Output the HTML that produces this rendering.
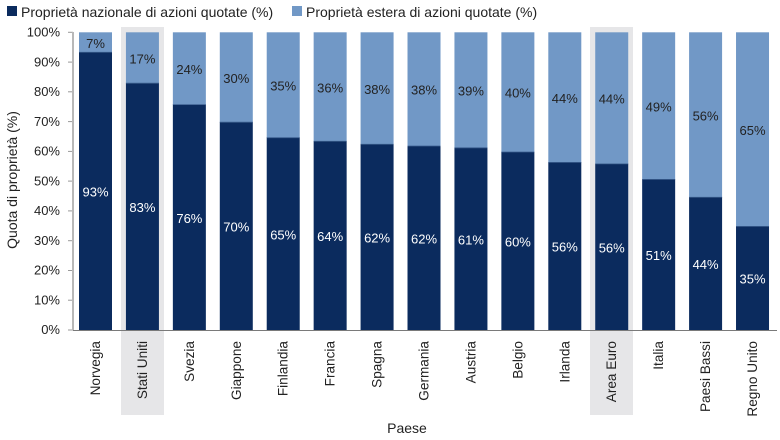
<!DOCTYPE html>
<html><head><meta charset="utf-8"><style>
html,body{margin:0;padding:0;background:#fff;}
svg{display:block;font-family:"Liberation Sans",sans-serif;}
</style></head><body>
<svg width="780" height="440" viewBox="0 0 780 440" xmlns="http://www.w3.org/2000/svg">
<rect width="780" height="440" fill="#fff"/>
<!-- legend -->
<rect x="7" y="6" width="10" height="10" fill="#0b2b5e"/>
<text x="21" y="17" font-size="14" fill="#222">Proprietà nazionale di azioni quotate (%)</text>
<rect x="292" y="6" width="10" height="10" fill="#7198c6"/>
<text x="306" y="17" font-size="14" fill="#222">Proprietà estera di azioni quotate (%)</text>
<!-- highlights -->
<rect x="121" y="27" width="43" height="388" fill="#e6e6e8"/>
<rect x="590" y="27" width="43" height="388" fill="#e6e6e8"/>
<!-- y axis -->
<g font-size="13" fill="#222" text-anchor="end">
<text x="60" y="36.5">100%</text>
<text x="60" y="66.3">90%</text>
<text x="60" y="96.1">80%</text>
<text x="60" y="125.8">70%</text>
<text x="60" y="155.6">60%</text>
<text x="60" y="185.4">50%</text>
<text x="60" y="215.1">40%</text>
<text x="60" y="244.9">30%</text>
<text x="60" y="274.7">20%</text>
<text x="60" y="304.4">10%</text>
<text x="60" y="334.2">0%</text>
</g>
<g stroke="#9a9a9a" stroke-width="1">
<line x1="68" x2="73" y1="32.3" y2="32.3"/>
<line x1="68" x2="73" y1="62.1" y2="62.1"/>
<line x1="68" x2="73" y1="91.8" y2="91.8"/>
<line x1="68" x2="73" y1="121.6" y2="121.6"/>
<line x1="68" x2="73" y1="151.4" y2="151.4"/>
<line x1="68" x2="73" y1="181.1" y2="181.1"/>
<line x1="68" x2="73" y1="210.9" y2="210.9"/>
<line x1="68" x2="73" y1="240.7" y2="240.7"/>
<line x1="68" x2="73" y1="270.5" y2="270.5"/>
<line x1="68" x2="73" y1="300.2" y2="300.2"/>
<line x1="68" x2="73" y1="330" y2="330"/>
</g>
<line x1="73" x2="73" y1="32" y2="330" stroke="#b8b8b8" stroke-width="2"/>
<text transform="translate(17,180) rotate(-90)" font-size="14" fill="#222" text-anchor="middle">Quota di proprietà (%)</text>
<!-- bars -->
<g id="bars"></g>
<line x1="73" x2="777" y1="330.5" y2="330.5" stroke="#7a7a7a" stroke-width="1"/>
<text x="407" y="433" font-size="14" fill="#222" text-anchor="middle">Paese</text>
<script>
(function(){
var names=["Norvegia","Stati Uniti","Svezia","Giappone","Finlandia","Francia","Spagna","Germania","Austria","Belgio","Irlanda","Area Euro","Italia","Paesi Bassi","Regno Unito"];
var dom=[93.3,82.9,75.7,69.8,64.6,63.4,62.4,61.8,61.2,59.8,56.3,55.8,50.6,44.6,34.8];
var dl=[93,83,76,70,65,64,62,62,61,60,56,56,51,44,35];
var fl=[7,17,24,30,35,36,38,38,39,40,44,44,49,56,65];
var ns="http://www.w3.org/2000/svg";
var g=document.getElementById("bars");
function el(t,a,txt){var e=document.createElementNS(ns,t);for(var k in a)e.setAttribute(k,a[k]);if(txt!==undefined)e.textContent=txt;g.appendChild(e);return e;}
var top=32.3,bot=330,sc=(bot-top)/100;
for(var i=0;i<15;i++){
 var x=79+i*46.93,w=33,cx=x+w/2;
 var yb=bot-dom[i]*sc;
 el("rect",{x:x,y:top,width:w,height:yb-top,fill:"#7198c6"});
 el("rect",{x:x,y:yb,width:w,height:bot-yb,fill:"#0b2b5e"});
 el("line",{x1:x,x2:x+w,y1:yb,y2:yb,stroke:"#3d5f8f","stroke-width":"0.8"});
 el("text",{x:cx,y:(top+yb)/2+5.5,"font-size":"13",fill:"#222","text-anchor":"middle"},fl[i]+"%");
 el("text",{x:cx,y:(yb+bot)/2+5.5,"font-size":"13",fill:"#fff","text-anchor":"middle"},dl[i]+"%");
 el("text",{transform:"translate("+(cx+4.5)+",341) rotate(-90)","font-size":"13.6",fill:"#222","text-anchor":"end"},names[i]);
}
})();
</script>
</svg>
</body></html>
